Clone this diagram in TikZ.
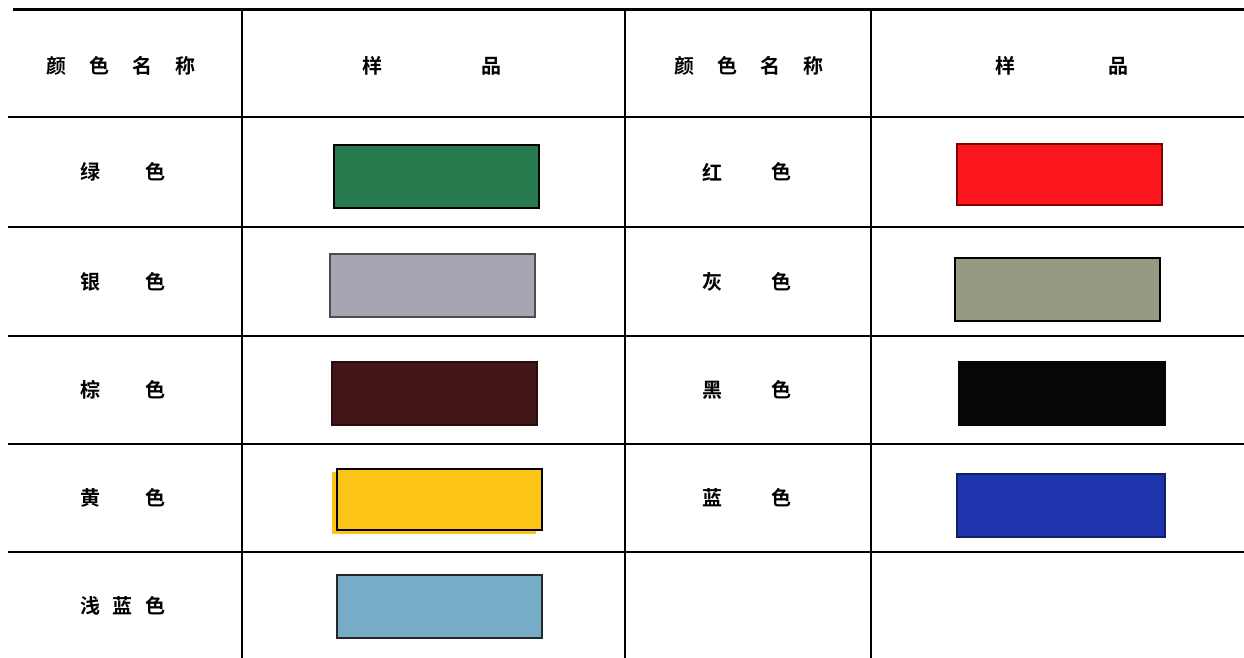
\documentclass[tikz,border=0pt]{standalone}
\usepackage{fontspec}
\newfontfamily\cjk{Noto Sans CJK SC}[BoldFont={Noto Sans CJK SC Bold}]
\definecolor{cgreen}{RGB}{38,122,78}
\definecolor{csilver}{RGB}{166,166,178}
\definecolor{cbrown}{RGB}{66,22,24}
\definecolor{cyellow}{RGB}{252,196,22}
\definecolor{clblue}{RGB}{118,172,200}
\definecolor{cred}{RGB}{250,22,28}
\definecolor{cgray}{RGB}{150,154,128}
\definecolor{cblack}{RGB}{6,6,6}
\definecolor{cblue}{RGB}{30,52,172}
\tikzset{
  rule/.style={line width=1.4pt,black},
  toprule/.style={line width=3pt,black},
  lbl/.style={font=\cjk\bfseries\fontsize{20}{20}\selectfont,inner sep=0pt,anchor=center},
  swatch/.style={draw=black,line width=2pt,minimum width=#1,minimum height=63pt,inner sep=0pt,anchor=north west},
  swatch/.default=205pt
}
\begin{document}
\begin{tikzpicture}[x=1pt,y=-1pt]
\useasboundingbox (0,0) rectangle (1244,658);
% grid
\draw[toprule] (13,10) -- (1244,10);
\foreach \yy in {117,227,336,444,552} \draw[rule] (8,\yy) -- (1244,\yy);
\foreach \xx in {242,625,871} \draw[rule] (\xx,10) -- (\xx,658);
% headers
\node[lbl] (h1) at (121,66) {颜\hspace{1.15em}色\hspace{1.15em}名\hspace{1.15em}称};
\node[lbl] (h2a) at (372,66) {样};
\node[lbl] (h2b) at (491,66) {品};
\node[lbl] (h3) at (749,66) {颜\hspace{1.15em}色\hspace{1.15em}名\hspace{1.15em}称};
\node[lbl] (h4a) at (1005,66) {样};
\node[lbl] (h4b) at (1118,66) {品};
% left labels
\node[lbl] (l1a) at (90,172) {绿}; \node[lbl] (l1b) at (155,172) {色};
\node[lbl] (l2a) at (90,282) {银}; \node[lbl] (l2b) at (155,282) {色};
\node[lbl] (l3a) at (90,390) {棕}; \node[lbl] (l3b) at (155,390) {色};
\node[lbl] (l4a) at (90,498) {黄}; \node[lbl] (l4b) at (155,498) {色};
\node[lbl] (l5) at (123,606) {浅\hspace{0.65em}蓝\hspace{0.65em}色};
% right labels
\node[lbl] (r1a) at (712,172) {红}; \node[lbl] (r1b) at (781,172) {色};
\node[lbl] (r2a) at (712,282) {灰}; \node[lbl] (r2b) at (781,282) {色};
\node[lbl] (r3a) at (712,390) {黑}; \node[lbl] (r3b) at (781,390) {色};
\node[lbl] (r4a) at (712,498) {蓝}; \node[lbl] (r4b) at (781,498) {色};
% left swatches
\node[swatch,fill=cgreen] (s1) at (333,144) {};
\node[swatch,fill=csilver,draw=black!70] (s2) at (329,253) {};
\node[swatch,fill=cbrown,draw=cbrown!60!black] (s3) at (331,361) {};
\fill[cyellow] (332,472) rectangle (536,534);
\node[swatch,fill=cyellow,minimum height=61pt] (s4) at (336,468) {};
\node[swatch,fill=clblue,draw=black!85] (s5) at (336,574) {};
% right swatches
\node[swatch,fill=cred,draw=red!50!black,minimum height=61pt] (t1) at (956,143) {};
\node[swatch,fill=cgray] (t2) at (954,257) {};
\node[swatch,fill=cblack,draw=cblack,minimum width=206pt] (t3) at (958,361) {};
\node[swatch,fill=cblue,draw=cblue!60!black,minimum width=208pt] (t4) at (956,473) {};
\end{tikzpicture}
\end{document}
